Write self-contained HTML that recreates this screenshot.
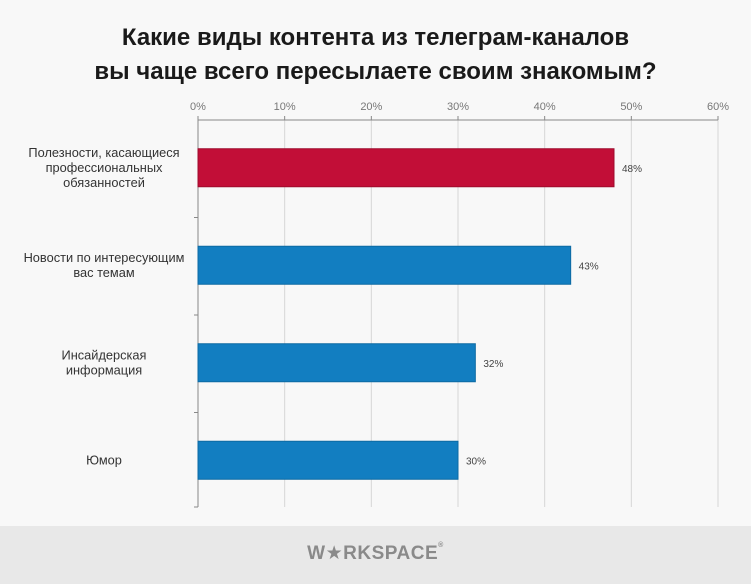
<!DOCTYPE html>
<html><head><meta charset="utf-8">
<style>
html,body{margin:0;padding:0;}
body{width:751px;height:584px;background:#f8f8f8;font-family:"Liberation Sans","DejaVu Sans",sans-serif;overflow:hidden;position:relative;}
#title{position:absolute;top:21px;left:0;width:751px;text-align:center;font-weight:bold;font-size:24px;line-height:34px;color:#1a1a1a;}
#footer{position:absolute;left:0;top:526px;width:751px;height:58px;background:#e8e8e8;}
#logo{position:absolute;top:16px;left:0;width:751px;text-align:center;font-weight:bold;font-size:19px;color:#8a8a8a;letter-spacing:0.5px;}
</style></head>
<body>
<div id="title">Какие виды контента из телеграм-каналов<br>вы чаще всего пересылаете своим знакомым?</div>
<svg id="chart" width="751" height="526" style="position:absolute;left:0;top:0"></svg>
<div id="footer"><div id="logo">W★RKSPACE<span style="font-size:7px;vertical-align:top">®</span></div></div>
<script>
const categories = [["Полезности, касающиеся","профессиональных","обязанностей"],["Новости по интересующим","вас темам"],["Инсайдерская","информация"],["Юмор"]];
const values = [48, 43, 32, 30];
const tickValues = [0, 10, 20, 30, 40, 50, 60];
const tickLabels = ["0%","10%","20%","30%","40%","50%","60%"];

const svg = document.getElementById('chart');
const NS = 'http://www.w3.org/2000/svg';
const x0 = 198, x1 = 718, yTop = 120, yBot = 507;
const catTop = 120, catStep = 97.5, barH = 38;
const xScale = v => x0 + (v - 0) / (60 - 0) * (x1 - x0);
const yBand = i => catTop + catStep * i + (catStep - barH) / 2 - 1;
function mk(tag, attrs){const e=document.createElementNS(NS,tag);for(const k in attrs)e.setAttribute(k,attrs[k]);svg.appendChild(e);return e;}

tickValues.forEach((t,i)=>{
  const x = xScale(t);
  if(i>0){const g=mk('line',{x1:x,x2:x,y1:yTop,y2:yBot,stroke:'#d6d6d6','stroke-width':1});
  
  }
  const tk=mk('line',{x1:x,x2:x,y1:yTop-4,y2:yTop,stroke:'#888','stroke-width':1});
  
  
  const tl=mk('text',{x:x,y:yTop-10,'text-anchor':'middle','font-size':11,fill:'#777'});
  tl.textContent=tickLabels[i];
  
  
});
const ax=mk('line',{x1:x0,x2:x1,y1:yTop,y2:yTop,stroke:'#888','stroke-width':1});


const ay=mk('line',{x1:x0,x2:x0,y1:yTop,y2:yBot,stroke:'#888','stroke-width':1});


for(let i=1;i<=categories.length;i++){
  const y=Math.min(catTop+catStep*i,yBot);
  const t=mk('line',{x1:x0-4,x2:x0,y1:y,y2:y,stroke:'#888','stroke-width':1});
  
  
}
values.forEach((v,i)=>{
  const y=yBand(i);
  const r=mk('rect',{x:x0,y:y,width:xScale(v)-x0,height:barH,fill:i===0?'#c20e37':'#127ec1',stroke:i===0?'#9e0b2c':'#0d6aa3','stroke-width':1});
  
  
  const vl=mk('text',{x:xScale(v)+8,y:y+barH/2+4,'font-size':10,fill:'#444'});
  vl.textContent=v+'%';
  
  
  const lines=categories[i];
  const lh=15, cy=y+barH/2, start=cy-(lines.length-1)*lh/2+4;
  lines.forEach((ln,j)=>{
    const c=mk('text',{x:104,y:start+j*lh,'text-anchor':'middle','font-size':12.8,fill:'#333'});
    c.textContent=ln;
    
    
  });
});
</script>
</body></html>
